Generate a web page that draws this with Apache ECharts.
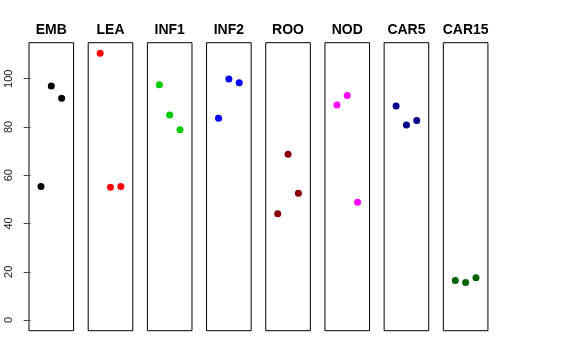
<!DOCTYPE html>
<html>
<head>
<meta charset="utf-8">
<script src="https://cdn.jsdelivr.net/npm/echarts@6/dist/echarts.min.js"></script>
<style>
html,body{margin:0;padding:0;background:#fff;}
#chart{width:576px;height:360px;}
</style>
</head>
<body>
<div id="chart"></div>
<script>
// Data
const panelNames = ['EMB','LEA','INF1','INF2','ROO','NOD','CAR5','CAR15'];
const xPositions = [1, 2, 3];
const EMB   = [55.3, 97.0, 91.9];
const LEA   = [110.5, 55.0, 55.3];
const INF1  = [97.5, 85.0, 78.8];
const INF2  = [83.6, 99.9, 98.3];
const ROO   = [44.0, 68.7, 52.5];
const NOD   = [89.1, 93.0, 48.8];
const CAR5  = [88.7, 80.8, 82.7];
const CAR15 = [16.4, 15.6, 17.5];
const yTickLabels = [0, 20, 40, 60, 80, 100];
const panelColors = ['#000000','#FF0000','#00CD00','#0000FF','#8B0000','#FF00FF','#00008B','#006400'];

const panelValues = [EMB, LEA, INF1, INF2, ROO, NOD, CAR5, CAR15];

const chart = echarts.init(document.getElementById('chart'), null, {renderer: 'canvas'});
const FONT = "'Liberation Sans', Arial, Helvetica, sans-serif";

const grids = [], xAxes = [], yAxes = [], series = [], graphics = [];
const gLeft0 = 29, gStep = 59.19, gW = 44.6, gTop = 42.7, gH = 288;
const yMin = -4.42, yMax = 114.92;

for (let i = 0; i < panelNames.length; i++) {
  const L = gLeft0 + i * gStep;
  grids.push({left: L, top: gTop, width: gW, height: gH, show: true,
    borderColor: '#000', borderWidth: 1, backgroundColor: 'transparent', containLabel: false});
  xAxes.push({type: 'value', gridIndex: i, min: -0.16, max: 4.16, show: false});
  const first = i === 0;
  yAxes.push({type: 'value', gridIndex: i, min: yMin, max: yMax, show: first,
    axisLine: {show: false}, splitLine: {show: false},
    axisTick: first ? {show: true, length: 7, lineStyle: {color: '#444', width: 1}, customValues: yTickLabels} : {show: false},
    axisLabel: first ? {show: true, rotate: 90, margin: 15, fontSize: 11, color: '#222', fontFamily: FONT,
      customValues: yTickLabels} : {show: false}
  });
  series.push({type: 'scatter', xAxisIndex: i, yAxisIndex: i, symbol: 'circle', symbolSize: 7,
    itemStyle: {color: panelColors[i], opacity: 1},
    data: xPositions.map((x, k) => [x, panelValues[i][k]]),
    silent: true});
  graphics.push({type: 'text', x: L + gW / 2, y: 30,
    style: {text: panelNames[i], fill: '#000', font: 'bold 14px ' + FONT, align: 'center', verticalAlign: 'middle'}});
}

chart.setOption({
  animation: false,
  backgroundColor: '#fff',
  grid: grids,
  xAxis: xAxes,
  yAxis: yAxes,
  series: series,
  graphic: graphics
});
</script>
</body>
</html>
